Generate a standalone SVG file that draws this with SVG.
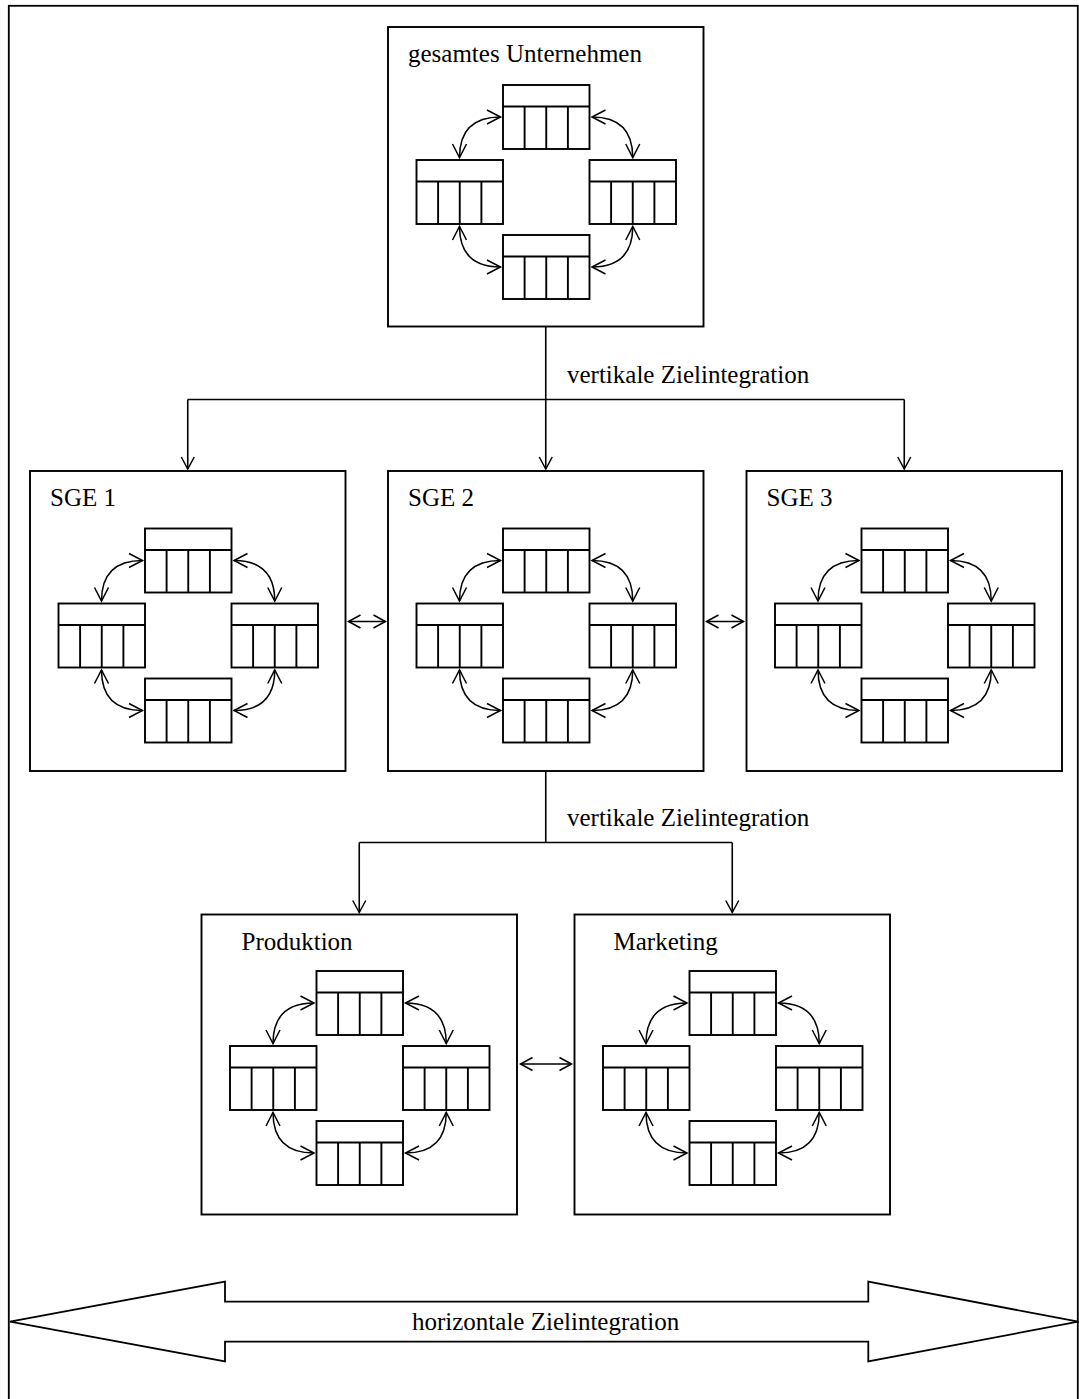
<svg xmlns="http://www.w3.org/2000/svg" xmlns:xlink="http://www.w3.org/1999/xlink" width="1079" height="1399" viewBox="0 0 1079 1399">
  <style>
    .frame { fill: none; stroke: #000; stroke-width: 1.8; }
    .box { fill: #fff; stroke: #000; stroke-width: 1.9; }
    .tbl rect { fill: #fff; stroke: #000; stroke-width: 1.9; }
    .tbl path { fill: none; stroke: #000; stroke-width: 1.9; }
    .link { fill: none; stroke: #000; stroke-width: 1.5; marker-start: url(#openL); marker-end: url(#openL); }
    .conn { fill: none; stroke: #000; stroke-width: 1.6; }
    .head { marker-end: url(#open); }
    .both { marker-start: url(#open); marker-end: url(#open); }
    .big { fill: #fff; stroke: #000; stroke-width: 1.8; stroke-linejoin: miter; }
    .label { font-family: "Liberation Serif", "Times New Roman", serif; font-size: 25px; fill: #000; }
  </style>
  <defs>
    <!-- open V arrowheads, tip at the path end -->
    <marker id="open" markerUnits="userSpaceOnUse" markerWidth="16" markerHeight="16" refX="0" refY="0" orient="auto-start-reverse" overflow="visible">
      <path d="M-12,-6.5 L0,0 L-12,6.5" fill="none" stroke="#000" stroke-width="1.5"/>
    </marker>
    <marker id="openL" markerUnits="userSpaceOnUse" markerWidth="18" markerHeight="18" refX="0" refY="0" orient="auto-start-reverse" overflow="visible">
      <path d="M-13.5,-7 L0,0 L-13.5,7" fill="none" stroke="#000" stroke-width="1.5"/>
    </marker>
    <!-- one table: header row over four columns -->
    <g id="tbl" class="tbl">
      <rect x="0" y="0" width="86.5" height="64"/>
      <path d="M0 21.5H86.5M21.6 21.5V64M43.25 21.5V64M64.9 21.5V64"/>
    </g>
    <!-- four tables in a ring with curved two-way links -->
    <g id="cluster">
      <use xlink:href="#tbl" x="86.5" y="0"/>
      <use xlink:href="#tbl" x="0" y="75"/>
      <use xlink:href="#tbl" x="173" y="75"/>
      <use xlink:href="#tbl" x="86.5" y="150"/>
      <path class="link" d="M84 32Q43 32 43 72.5"/>
      <path class="link" d="M175.5 32Q216.25 32 216.25 72.5"/>
      <path class="link" d="M43 141.5Q43 182 84 182"/>
      <path class="link" d="M216.25 141.5Q216.25 182 175.5 182"/>
    </g>
  </defs>

  <rect width="1079" height="1399" fill="#fff"/>
  <rect class="frame" x="8.8" y="5.8" width="1069" height="1400"/>

  <g id="connectors">
    <path class="conn head" d="M545.75 326.5V469"/>
    <path class="conn" d="M187.75 399.5H904.25"/>
    <path class="conn head" d="M187.75 399.5V469"/>
    <path class="conn head" d="M904.25 399.5V469"/>
    <path class="conn" d="M545.75 771V842.5"/>
    <path class="conn" d="M359.25 842.5H732.25"/>
    <path class="conn head" d="M359.25 842.5V912.5"/>
    <path class="conn head" d="M732.25 842.5V912.5"/>
    <path class="conn both" d="M348.5 621.5H385.5"/>
    <path class="conn both" d="M706.5 621.5H743.5"/>
    <path class="conn both" d="M520.5 1064H571.5"/>
  </g>

  <g id="node-unternehmen">
    <rect class="box" x="388" y="27" width="315.5" height="299.5"/>
    <text class="label" x="408" y="62">gesamtes Unternehmen</text>
    <use xlink:href="#cluster" x="416.5" y="85"/>
  </g>

  <g id="node-sge1">
    <rect class="box" x="30" y="471" width="315.5" height="300"/>
    <text class="label" x="50" y="506">SGE 1</text>
    <use xlink:href="#cluster" x="58.5" y="528.5"/>
  </g>

  <g id="node-sge2">
    <rect class="box" x="388" y="471" width="315.5" height="300"/>
    <text class="label" x="408" y="506">SGE 2</text>
    <use xlink:href="#cluster" x="416.5" y="528.5"/>
  </g>

  <g id="node-sge3">
    <rect class="box" x="746.5" y="471" width="315.5" height="300"/>
    <text class="label" x="766.5" y="506">SGE 3</text>
    <use xlink:href="#cluster" x="775" y="528.5"/>
  </g>

  <g id="node-produktion">
    <rect class="box" x="201.5" y="914.5" width="315.5" height="300"/>
    <text class="label" x="241.5" y="949.5">Produktion</text>
    <use xlink:href="#cluster" x="230" y="971"/>
  </g>

  <g id="node-marketing">
    <rect class="box" x="574.5" y="914.5" width="315.5" height="300"/>
    <text class="label" x="613.5" y="949.5">Marketing</text>
    <use xlink:href="#cluster" x="603" y="971"/>
  </g>

  <g id="labels">
    <text class="label" x="567" y="383">vertikale Zielintegration</text>
    <text class="label" x="567" y="826">vertikale Zielintegration</text>
  </g>

  <g id="horizontal-arrow">
    <polygon class="big" points="10,1321.7 225,1281.7 225,1301.7 868.3,1301.7 868.3,1281.7 1078.3,1321.7 868.3,1361.3 868.3,1341.7 225,1341.7 225,1361.3"/>
    <text class="label" x="412" y="1330">horizontale Zielintegration</text>
  </g>
</svg>
